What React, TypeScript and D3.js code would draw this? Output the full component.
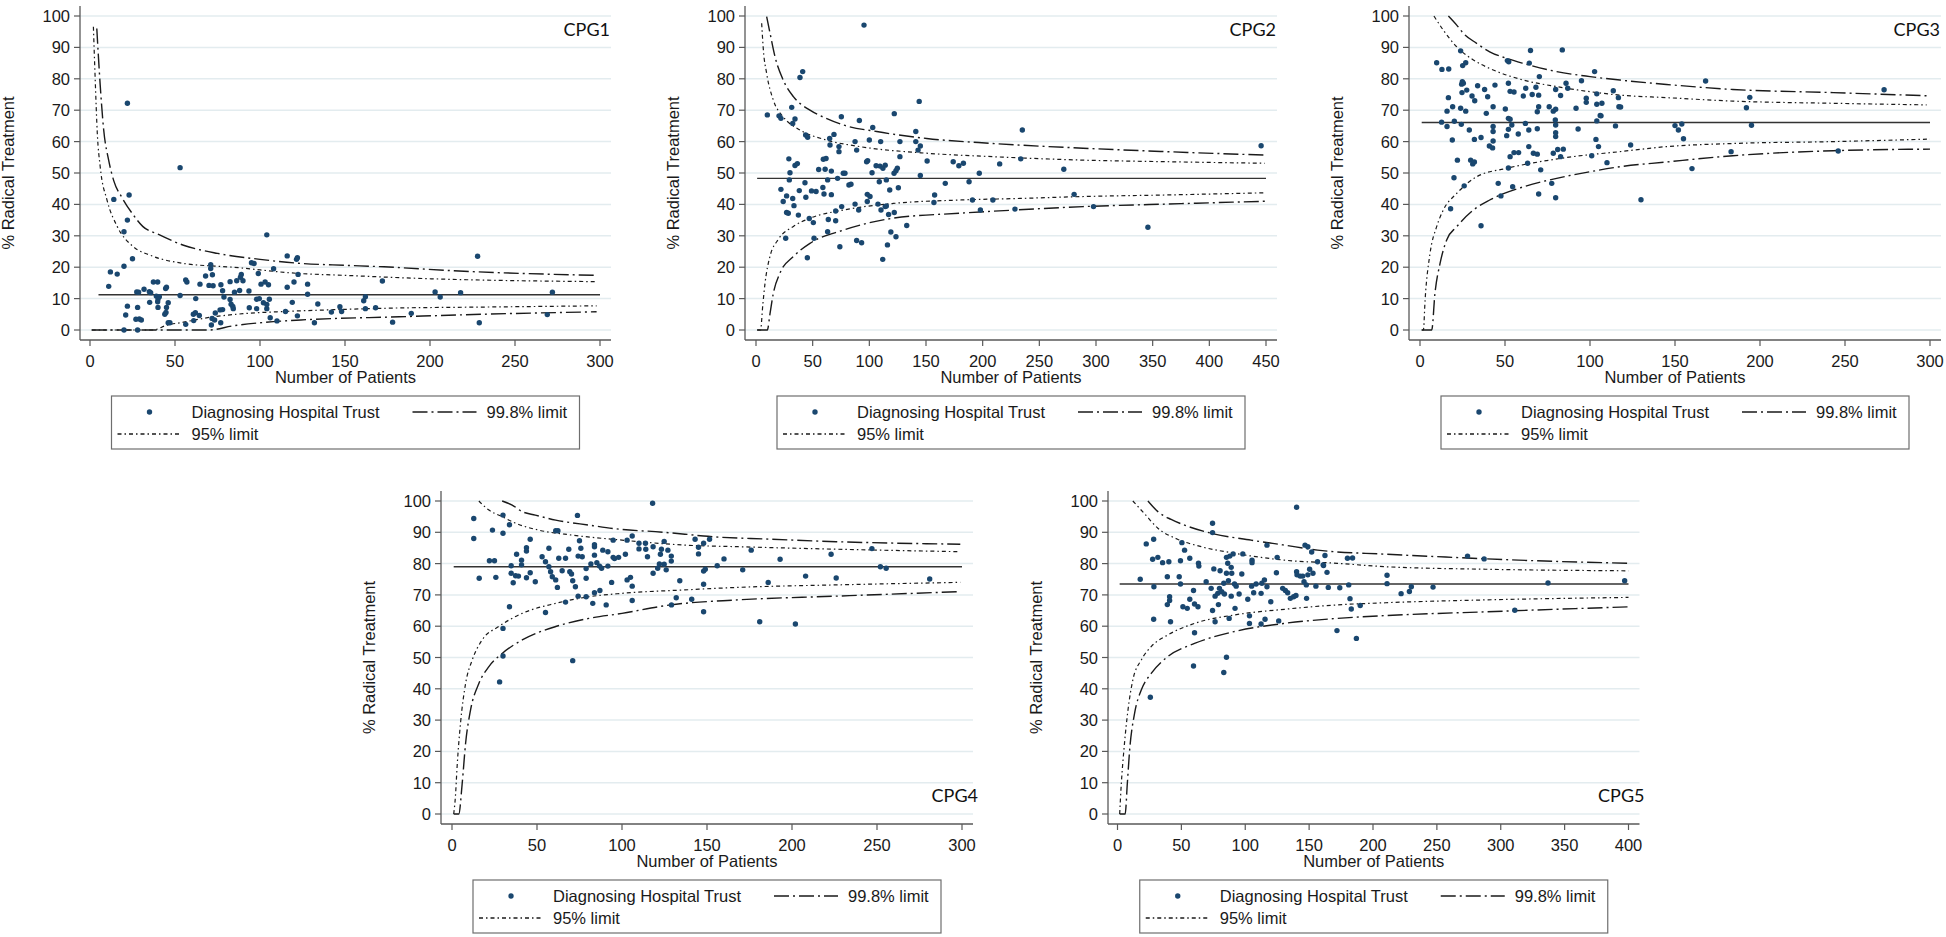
import React from 'react';
import * as d3 from 'd3';

type Pt = [number, number];

// ---- CPG1 ----
const cpg1Trusts: Pt[] = [
  [22, 72.2], [53, 51.7], [14, 41.6], [23, 43], [22, 35], [20, 31.3], [25, 22.7], [20, 20.3], [12, 18.5], [16, 17.8], [11, 13.9],
  [104, 30.3], [116, 23.6], [121.5, 22.5], [122, 23], [95, 21.4], [96.5, 21.2], [108, 19.5], [71, 20.8], [71, 19.6], [72, 17.6],
  [68, 17.2], [89, 17.7], [88.5, 16.8], [99, 18], [122.4, 17.7], [120, 15.3], [128, 14.6], [116, 13.6], [128, 11.4], [172, 15.6],
  [56.3, 15.9], [57, 15.3], [64.7, 14.6], [70, 14.2], [72.4, 14.1], [77, 14.4], [82.4, 15.4], [86.3, 15.7], [90, 15.7], [100.6, 14.6],
  [103, 15.3], [105, 14.4], [93.5, 12.4], [88, 12.6], [85, 12], [78, 12.5], [78.8, 10.5], [82.4, 9.7], [84, 7.5], [83, 8.2],
  [84.3, 6.8], [76.5, 6.4], [78, 6.5], [73.7, 5.4], [71.8, 3.7], [73.3, 3.2], [71.4, 1.6], [76.9, 2.3], [62, 5.5], [60.8, 5],
  [61, 3], [64.3, 4.6], [56.3, 1.8], [62.2, 10], [53, 11], [44.5, 13.2], [45, 13.6], [39.8, 15.3], [37.3, 15.3], [31.8, 13],
  [34.9, 12.2], [35.7, 11.9], [27.5, 12.1], [28.6, 12], [39, 10.8], [40.8, 10.6], [40, 9.9], [35.1, 8.8], [39.8, 9], [46, 8.7],
  [40, 7.2], [45, 7.2], [44, 5], [44.7, 5.6], [46, 2.3], [47, 2.3], [28, 7.2], [22, 7.6], [21, 4.8], [27, 3.4], [29, 3.5],
  [30.2, 3.2], [20, 0], [28, 0], [134, 8.3], [119, 8.8], [115, 5.9], [122, 4.5], [132, 2.3], [110, 2.9], [106, 3.9], [104, 6.8],
  [104, 8.1], [102, 8.7], [105.5, 9.8], [98, 9.8], [99.6, 10], [98, 6.8], [93.7, 7.1], [142, 5.7], [147, 7.4], [148, 5.9],
  [161, 9.3], [162, 10.6], [162, 6.8], [168, 7.1], [178, 2.5], [228, 23.5], [203, 12.1], [206, 10.5], [218, 11.9], [189, 5.3],
  [229, 2.3], [269, 4.9], [272, 12],
];
const cpg1Mean = 11.25;
const cpg1Up998: Pt[] = [[4, 96], [6, 78], [8, 64], [11, 54], [14, 47.5], [19, 42], [25, 37], [31, 33], [40, 30.5], [55, 27], [75, 24.4], [100, 22.5], [124, 21.2], [150, 20.6], [170, 20.2], [220, 18.7], [298, 17.4]];
const cpg1Up95: Pt[] = [[2, 96.6], [3, 80.7], [4.3, 62.6], [6, 52], [10, 41.4], [16, 33], [25.5, 26.5], [35, 23.9], [55, 21.2], [84, 20], [123, 18], [150, 17.4], [190, 16.5], [298, 15.4]];
const cpg1Lo95: Pt[] = [[1, 0], [37, 0], [45, 1.5], [55, 2.5], [70, 4], [90, 5.2], [110, 5.8], [140, 6.4], [180, 7], [230, 7.3], [298, 7.7]];
const cpg1Lo998: Pt[] = [[1, 0], [70, 0], [84, 1.3], [100, 2.3], [124, 3.2], [182, 4.2], [230, 5], [298, 5.8]];

// ---- CPG2 ----
const cpg2Trusts: Pt[] = [
  [95.3, 97.1], [41.2, 82.3], [38.8, 80.4], [10, 68.5], [20.3, 68.2], [22, 67.4], [31.5, 70.9], [32.4, 65.8], [34.4, 67.2],
  [43.8, 62.1], [45.6, 61.4], [75.3, 67.9], [91.2, 66.7], [103, 64.5], [122, 68.9], [144, 72.8], [141, 63.2], [65, 61],
  [68.8, 62.3], [65.3, 58.9], [73.2, 58.4], [73.2, 56.8], [87.4, 60], [88.8, 57.3], [100, 60.5], [110, 60], [127, 60], [141, 60],
  [143, 57.3], [145, 58.6], [29, 54.5], [34.4, 52.4], [36.5, 53], [30, 50.1], [29.4, 47.8], [22, 44.8], [24, 40.9], [27, 42.7],
  [32.4, 41.9], [33.5, 39.6], [27, 37.4], [28.5, 37.2], [37.4, 36.6], [38.2, 44.4], [43.2, 46.9], [44, 42.3], [47, 35.5],
  [49, 44.3], [53, 44.1], [50.6, 34.2], [51.2, 29.2], [26.2, 29.2], [45.3, 23], [55.3, 51.1], [59, 45.4], [60, 43.3],
  [59.4, 54.4], [61.8, 54.6], [61, 51.2], [63.2, 47.8], [66.5, 50.6], [66.5, 43.1], [63.8, 35.2], [63.2, 31.3], [70.3, 37.9],
  [70.3, 34.8], [72, 48.3], [77, 49.9], [78.5, 49.9], [75.6, 39.3], [74, 26.5], [82, 46.2], [83.8, 46.4], [87.4, 40.1],
  [90.6, 38.2], [88.8, 28.5], [93.2, 27.8], [97.6, 53.6], [98.5, 53.9], [98.2, 43.2], [100.6, 42.5], [98.2, 40.9], [102.4, 50.1],
  [106, 52.3], [109.4, 52.2], [107.6, 40.1], [108.8, 47.2], [110.3, 38.2], [112, 51.5], [114, 52.5], [111.8, 22.5], [114, 39.3],
  [115, 39.5], [115, 47.8], [118, 44.6], [117, 36.8], [119, 31.2], [116, 27.1], [121.8, 49.9], [123.5, 50.7], [124.7, 51.5],
  [122, 37.4], [123.5, 29.7], [125.6, 45.3], [127, 55.2], [133, 33.3], [145, 49.2], [151, 53.8], [157.6, 43], [157, 40.6],
  [167, 46.7], [174, 53.6], [179, 52.3], [183, 53.1], [188, 47.2], [191, 41.4], [197, 49.9], [198, 38.2], [209, 41.4],
  [215, 52.9], [228.5, 38.5], [233.6, 54.5], [235, 63.7], [271.6, 51.2], [280.7, 43.2], [297.8, 39.3], [345.8, 32.7], [445.7, 58.7],
];
const cpg2Mean = 48.3;
const cpg2Up998: Pt[] = [[9.4, 99.8], [12.4, 94.5], [16.8, 87], [24, 79.6], [33, 74.3], [47.6, 70], [62, 67.4], [77, 65.3], [106.5, 63.2], [150.6, 61], [209, 59.4], [288.6, 57.9], [362, 56.8], [449, 55.7]];
const cpg2Up95: Pt[] = [[5, 97.7], [6.5, 89.2], [9.4, 81.7], [15.3, 73.2], [24, 67.9], [38.8, 63.7], [62, 60.5], [91.8, 58.4], [150.6, 56.3], [209, 55.2], [288.6, 54.1], [362, 53.6], [449, 53.1]];
const cpg2Lo95: Pt[] = [[1, 0], [4, 0], [6, 8], [8, 15], [12, 23], [20, 29], [33, 33], [47.6, 35.6], [77, 38.2], [121, 40.3], [180, 41.4], [233, 41.9], [288, 42.5], [362, 43], [449, 43.7]];
const cpg2Lo998: Pt[] = [[1, 0], [10, 0], [12.4, 5.3], [15.3, 11.7], [21, 18], [33, 23.4], [47.6, 27.6], [77, 31.8], [121, 35.6], [180, 37.2], [228, 38.2], [288.6, 39.3], [362, 40.1], [449, 41]];

// ---- CPG3 ----
const cpg3Trusts: Pt[] = [
  [9.8, 85.1], [12.9, 83], [16.9, 83.1], [23.9, 88.9], [25.1, 84.2], [26.9, 85.1], [24.9, 79.1], [24.5, 78.3], [25.5, 78.6],
  [24.7, 75.6], [16.7, 74], [27.5, 76.4], [30.6, 74.5], [32.2, 73], [33.9, 77.8], [38, 76.6], [39.8, 74.3], [44.1, 78],
  [15.9, 69.7], [19.2, 71.1], [23.9, 70.6], [26.9, 69.7], [12.7, 66.2], [15.9, 64.8], [20.2, 66.5], [24.3, 65.5], [19, 60.5],
  [22, 54.1], [20, 48.5], [18, 38.6], [35.9, 33.2], [26, 45.9], [29, 63.7], [32, 60.7], [29.8, 54.1], [31, 52.9], [32, 53.5],
  [35.9, 61.3], [39, 69], [40.8, 58.6], [42.7, 58], [43, 64.8], [43, 63.2], [43, 60.2], [43, 71.1], [46, 46.7], [47.6, 42.7],
  [50.2, 70.4], [51, 61.9], [52, 78.6], [51.4, 85.8], [52.2, 85.4], [52, 51.6], [52, 63.9], [52, 67.4], [53, 67.1], [53, 76],
  [55.3, 75.8], [54, 65.3], [53, 55.2], [54.5, 45.6], [55.3, 56.5], [58, 56.5], [57.8, 62.4], [60.8, 74.5], [62.2, 77],
  [62, 65.8], [63.3, 53.1], [64, 63.7], [64, 58.4], [64.3, 85], [65, 89], [66, 75], [66.7, 56.3], [69, 56], [68.2, 77.3],
  [69, 69.5], [69, 64.1], [69.8, 74.8], [69.8, 71.1], [70.2, 80.7], [69.8, 43.3], [71, 51], [76, 71.1], [77.5, 46.7],
  [78.4, 69.7], [79.8, 76.6], [79.8, 70.3], [79.6, 66.9], [79.8, 65.3], [79.8, 62.8], [79.8, 61.6], [79.8, 42.1], [78.4, 56.3],
  [81, 57.5], [82.7, 55.2], [82.7, 74.7], [83.7, 89.2], [84.3, 57.6], [85.9, 78.6], [86.9, 77], [91.8, 70.6], [93, 64],
  [95, 79.4], [97.8, 73.8], [97.8, 72.5], [101, 55.5], [102.7, 82.3], [103.5, 60.7], [104, 66.6], [104, 75.2], [104, 71.9],
  [105, 58.4], [106, 68.3], [107, 72.2], [110, 53.3], [113.7, 76.2], [115, 65], [116.7, 74], [117, 71.1], [106.5, 68.2],
  [118, 71], [123.9, 58.9], [130, 41.5], [150, 65.1], [152, 63.7], [154, 65.6], [155, 60.9], [160, 51.4], [168, 79.3],
  [183, 56.8], [192, 70.8], [194, 74.1], [195, 65.2], [246, 57], [273, 76.5],
];
const cpg3Mean = 66.1;
const cpg3Up998: Pt[] = [[16.7, 100], [21.6, 97.1], [25.5, 94.5], [33.3, 91.3], [41, 88.6], [51, 86.5], [60.8, 84.9], [80.4, 82.3], [100, 80.7], [117.6, 79.6], [145, 78.2], [184, 76.6], [243, 75.6], [298, 74.6]];
const cpg3Up95: Pt[] = [[8.2, 100], [13.7, 95.5], [21.6, 90.2], [31.4, 86], [41, 83.3], [60.8, 79.6], [80.4, 77.5], [100, 75.9], [117.6, 74.8], [145, 74], [184, 72.9], [243, 72.2], [298, 71.7]];
const cpg3Lo95: Pt[] = [[1, 0], [2, 0], [3, 9.6], [5.9, 24.4], [9.8, 32.9], [13.7, 38.2], [21.6, 43.5], [33.3, 48.8], [51, 51.5], [70.6, 53.6], [90, 55.2], [117.6, 56.8], [145, 58.4], [184, 59.4], [243, 60], [300, 60.8]];
const cpg3Lo998: Pt[] = [[1, 0], [6.9, 0], [8.8, 11.7], [11.8, 21.2], [15.7, 28.7], [21.6, 32.9], [31.4, 38.2], [41, 41.4], [60.8, 45.6], [80.4, 48.3], [100, 50.4], [117.6, 52], [145, 53.5], [184, 55.5], [243, 57.1], [300, 57.6]];

// ---- CPG4 ----
const cpg4Trusts: Pt[] = [
  [12.8, 94.4], [12.8, 88], [16, 75.3], [22, 80.9], [25, 80.9], [23.8, 90.7], [25.8, 75.6], [30, 95.5], [30, 89.7], [33.8, 92.4],
  [33.8, 66.2], [30, 59.3], [30, 50.5], [28, 42.2], [34.8, 79.3], [34.8, 76.9], [36, 73.9], [37.4, 76.1], [39.1, 76], [38, 83],
  [40.9, 81.1], [40.9, 79.6], [43.8, 85.1], [43.8, 84], [43.8, 75.5], [46, 87.8], [46, 77.1], [49, 74.2], [53, 82.2], [55, 80.6],
  [55, 64.4], [57, 84.9], [57, 79], [58, 77.4], [59, 75.8], [61, 74.8], [62, 72.4], [61, 90.5], [62.3, 90.5], [62.8, 81.7],
  [64.8, 77.7], [66.8, 81.7], [66.8, 67.7], [68.7, 84.6], [69.3, 77.4], [70.3, 76.7], [71, 74.5], [71, 49], [72.6, 72.6],
  [73.8, 95.4], [74.2, 69.6], [75, 87.3], [75.8, 84.9], [74.2, 82.4], [76.6, 82.2], [78.9, 78.4], [78.9, 75.3], [78.9, 69.4],
  [81.7, 79.9], [82.8, 67.3], [83.8, 85.4], [83.8, 86], [83.8, 82.7], [83.8, 70.7], [85.2, 80.3], [86.8, 79.2], [87, 71.4],
  [88, 78.5], [88.7, 84.3], [90.7, 66.8], [91.7, 83.8], [91.7, 79.2], [93.9, 74], [94.8, 87.5], [94.8, 82], [95.6, 81.6],
  [98, 82], [102, 83], [103, 87.5], [103, 74.8], [105, 75.6], [106, 72.8], [106, 68.2], [106, 88.8], [110, 86.5], [110, 84.7],
  [113.8, 86.5], [114, 84.6], [115, 82.2], [118, 99.3], [118.3, 85.4], [118.3, 76.9], [121, 78.5], [122, 79.9], [122.6, 83],
  [123.2, 84.6], [124.8, 87.1], [124.8, 79.8], [126, 78], [127, 84.3], [129, 82.4], [129, 80.8], [129.1, 66.8], [131.9, 69.1],
  [134, 74.5], [143, 87.8], [145, 85.2], [148, 86.5], [151.5, 87.8], [145, 83.1], [156, 79.3], [160, 81.5], [148, 77.6],
  [149, 78.2], [141, 68.6], [148, 73.4], [148, 64.6], [171, 78], [176, 84.3], [181, 61.4], [186, 74], [193, 81.4], [202, 60.7],
  [208, 76], [223, 83], [226, 75.4], [247, 84.8], [252, 79], [255.4, 78.5], [281, 75.1],
];
const cpg4Mean = 79;
const cpg4Up998: Pt[] = [[29.5, 100], [35.4, 98.7], [41.3, 96.6], [49, 95.5], [61, 93.9], [80.5, 92.3], [100, 90.9], [119.7, 90.2], [137, 89.4], [148, 88.8], [187, 87.8], [226, 87], [299, 86.2]];
const cpg4Up95: Pt[] = [[15.8, 100], [21.7, 97.1], [29.5, 95], [37.4, 92.9], [51, 90.7], [70.7, 89.1], [100, 87.5], [137, 85.9], [168, 85.4], [226, 84.6], [299, 83.8]];
const cpg4Lo95: Pt[] = [[1, 0], [2, 5.5], [3, 15.1], [5, 29], [8, 41.7], [11.9, 49.2], [17.7, 55.6], [27.5, 59.9], [41.3, 64.1], [61, 67.3], [80.5, 69.4], [100, 70.5], [137, 71.6], [168, 72.4], [226, 73.2], [299, 74]];
const cpg4Lo998: Pt[] = [[1, 0], [4, 0], [6, 9.8], [8, 22.6], [10.9, 33.2], [15.8, 41.7], [21.7, 47.1], [29.5, 51.3], [41.3, 55.6], [61, 59.9], [80.5, 62.5], [100, 64.1], [128.5, 66.8], [168, 68.4], [226, 69.6], [297, 71]];

// ---- CPG5 ----
const cpg5Trusts: Pt[] = [
  [17.8, 75], [22.5, 86.3], [28.3, 87.8], [27.5, 81.4], [31.6, 82], [28.5, 72.6], [28.3, 62.2], [25.7, 37.3], [35.3, 80.3],
  [39, 75.8], [40.2, 80.6], [39, 66.9], [40.8, 69.4], [40.8, 68.2], [41.5, 61.4], [48.3, 75.8], [49.3, 73.5], [50.4, 86.7],
  [49.3, 80.9], [52.5, 84.3], [51.2, 66.2], [54.6, 65.7], [56.6, 81.7], [56.6, 68.6], [59.5, 71.4], [60.3, 67.1], [63, 66.2],
  [60.3, 57.9], [59.5, 47.3], [63.4, 80.1], [63.7, 79.2], [69.4, 74.2], [73.3, 72.1], [74.4, 92.9], [74.4, 89.9], [74.4, 65],
  [75.4, 78.3], [76.4, 61.4], [76.4, 69.6], [78.5, 70.5], [79, 66.9], [79.8, 72.1], [80.3, 77.7], [81.6, 71], [83.2, 73.7],
  [83.7, 70.3], [83.2, 45.2], [85.3, 50.1], [85.3, 76.9], [85.3, 82], [86.3, 80.1], [86.8, 74.5], [87.4, 62.5], [87.9, 82.4],
  [89, 78.8], [89, 69.6], [89.4, 76.9], [90.5, 83.1], [91.6, 73.5], [92.9, 72.8], [92, 65.7], [95.2, 70.3], [97.3, 76.7],
  [98.1, 83.1], [102, 68.6], [103.3, 63.3], [103.3, 60.9], [105, 72.8], [105.3, 81.1], [105.3, 80.3], [106.6, 70.7],
  [108.5, 73.5], [112.4, 70.5], [112.4, 60.7], [113, 73.7], [115, 74.8], [115.5, 62.2], [117, 72.6], [117, 85.9], [120, 67.8],
  [124.4, 77.1], [125, 82], [126.2, 61.7], [129.3, 72.1], [131.4, 71.4], [133.2, 70.7], [135.3, 68.9], [137.9, 69.4],
  [139.7, 69.8], [140.2, 98], [140.2, 77.4], [140.5, 76.4], [143, 76], [145, 76], [146, 74.2], [147.8, 73.2], [146.8, 85.9],
  [149, 85.4], [148, 68.9], [149, 76.4], [150.4, 78.2], [152, 83.7], [153, 76.9], [155.3, 72.8], [156.6, 80.6], [161.3, 79.4],
  [162.4, 82.6], [164, 77.2], [165, 72.4], [171.8, 58.6], [161, 79.6], [174, 72.3], [180, 81.7], [184, 81.8], [181, 73.2],
  [182, 68.8], [183, 65.5], [190, 66.6], [187, 56.1], [211, 76.3], [211, 73.6], [222, 70.4], [228.5, 71.1], [230, 72.6],
  [247, 72.5], [274, 82.4], [287, 81.5], [311, 65.1], [337, 73.8], [397, 74.5],
];
const cpg5Mean = 73.5;
const cpg5Up998: Pt[] = [[23.8, 100], [31.6, 96.6], [42, 94.1], [52.5, 92.3], [73.3, 89.7], [104.5, 87.5], [130.6, 85.9], [156.6, 84.3], [210, 83], [262, 82], [314, 81.1], [400, 80.1]];
const cpg5Up95: Pt[] = [[12, 100], [21, 96], [31.6, 91.3], [47, 87.8], [65.5, 85.4], [91.5, 83.3], [130.6, 81.1], [172, 80.1], [210, 79], [288, 78.2], [400, 77.7]];
const cpg5Lo95: Pt[] = [[1.7, 0], [3, 9.8], [5, 20.4], [8.2, 33.2], [12, 42.8], [18.6, 49.2], [26.4, 53.5], [39.4, 57.2], [60.3, 60.9], [91.5, 63.6], [130.6, 65.4], [172, 66.8], [210, 67.5], [288, 68.4], [400, 69.2]];
const cpg5Lo998: Pt[] = [[1.7, 0], [6, 0], [7.7, 9.8], [9.5, 20.4], [13.4, 32.2], [18.6, 39.6], [26.4, 44.9], [39.4, 50.3], [60.3, 54.5], [91.5, 58.3], [130.6, 60.9], [172, 62.5], [210, 63.4], [288, 64.6], [400, 66.2]];

const yTicks = [0, 10, 20, 30, 40, 50, 60, 70, 80, 90, 100];
const xTicks300 = [0, 50, 100, 150, 200, 250, 300];
const xTicks400 = [0, 50, 100, 150, 200, 250, 300, 350, 400];
const xTicks450 = [0, 50, 100, 150, 200, 250, 300, 350, 400, 450];

const legendLabels = { trust: 'Diagnosing Hospital Trust', l998: '99.8% limit', l95: '95% limit' };

interface PanelSpec {
  label: string;
  trusts: Pt[];
  mean: number;
  meanFrom: number;
  up998: Pt[];
  up95: Pt[];
  lo95: Pt[];
  lo998: Pt[];
  xMax: number;
  xTicks: number[];
  axisX: number;
  x0: number;
  width: number;
  y100: number;
  y0: number;
  labelAtTop: boolean;
}

const panels: PanelSpec[] = [
  { label: 'CPG1', trusts: cpg1Trusts, mean: cpg1Mean, meanFrom: 5, up998: cpg1Up998, up95: cpg1Up95, lo95: cpg1Lo95, lo998: cpg1Lo998, xMax: 300, xTicks: xTicks300, axisX: 80, x0: 90, width: 510, y100: 16, y0: 330, labelAtTop: true },
  { label: 'CPG2', trusts: cpg2Trusts, mean: cpg2Mean, meanFrom: 1, up998: cpg2Up998, up95: cpg2Up95, lo95: cpg2Lo95, lo998: cpg2Lo998, xMax: 450, xTicks: xTicks450, axisX: 745, x0: 756, width: 510, y100: 16, y0: 330, labelAtTop: true },
  { label: 'CPG3', trusts: cpg3Trusts, mean: cpg3Mean, meanFrom: 1, up998: cpg3Up998, up95: cpg3Up95, lo95: cpg3Lo95, lo998: cpg3Lo998, xMax: 300, xTicks: xTicks300, axisX: 1409, x0: 1420, width: 510, y100: 16, y0: 330, labelAtTop: true },
  { label: 'CPG4', trusts: cpg4Trusts, mean: cpg4Mean, meanFrom: 1, up998: cpg4Up998, up95: cpg4Up95, lo95: cpg4Lo95, lo998: cpg4Lo998, xMax: 300, xTicks: xTicks300, axisX: 441, x0: 452, width: 510, y100: 501, y0: 814, labelAtTop: false },
  { label: 'CPG5', trusts: cpg5Trusts, mean: cpg5Mean, meanFrom: 1.7, up998: cpg5Up998, up95: cpg5Up95, lo95: cpg5Lo95, lo998: cpg5Lo998, xMax: 400, xTicks: xTicks400, axisX: 1108, x0: 1117.5, width: 511, y100: 501, y0: 814, labelAtTop: false },
];

const FONT = '"Liberation Sans", Arial, Helvetica, sans-serif';
const DOT = '#1a476f';
const INK = '#1a1a1a';
const GRID = '#e3ecef';
const AXIS = '#595959';
const DASH998 = '15 4 2 4';
const DASH95 = '4 3 1.5 3';

const Legend: React.FC<{ left: number; top: number }> = ({ left, top }) => {
  const r1 = top + 16;
  const r2 = top + 38;
  return (
    <g fontFamily={FONT} fontSize={16.5} fill={INK}>
      <rect x={left} y={top} width={468} height={53} fill="#fff" stroke="#6e6e6e" strokeWidth={1.2} />
      <circle cx={left + 38} cy={r1} r={2.7} fill={DOT} />
      <text x={left + 80} y={r1} dominantBaseline="central">{legendLabels.trust}</text>
      <line x1={left + 301} x2={left + 365} y1={r1} y2={r1} stroke={INK} strokeWidth={1.4} strokeDasharray={DASH998} />
      <text x={left + 375} y={r1} dominantBaseline="central">{legendLabels.l998}</text>
      <line x1={left + 6} x2={left + 70} y1={r2} y2={r2} stroke={INK} strokeWidth={1.4} strokeDasharray={DASH95} />
      <text x={left + 80} y={r2} dominantBaseline="central">{legendLabels.l95}</text>
    </g>
  );
};

const Panel: React.FC<{ p: PanelSpec }> = ({ p }) => {
  const x = d3.scaleLinear().domain([0, p.xMax]).range([p.x0, p.x0 + p.width]);
  const y = d3.scaleLinear().domain([0, 100]).range([p.y0, p.y100]);
  const line = d3
    .line<Pt>()
    .x((d) => x(d[0]))
    .y((d) => y(d[1]))
    .curve(d3.curveMonotoneX);
  const right = p.x0 + p.width + 11;
  const bottom = p.y0 + 10;
  const top = p.y100 - 10;
  const cx = (p.axisX + right) / 2;
  const legendTop = bottom + 56;

  return (
    <g>
      {yTicks.map((t) => (
        <line key={`g${t}`} x1={p.axisX} x2={right} y1={y(t)} y2={y(t)} stroke={GRID} strokeWidth={1.5} />
      ))}
      <line x1={p.axisX} x2={p.axisX} y1={top} y2={bottom} stroke={AXIS} strokeWidth={1.3} />
      <line x1={p.axisX} x2={right} y1={bottom} y2={bottom} stroke={AXIS} strokeWidth={1.3} />
      {yTicks.map((t) => (
        <g key={`y${t}`}>
          <line x1={p.axisX - 6} x2={p.axisX} y1={y(t)} y2={y(t)} stroke={AXIS} strokeWidth={1.2} />
          <text x={p.axisX - 10} y={y(t)} textAnchor="end" dominantBaseline="central" fontFamily={FONT} fontSize={16.5} fill={INK}>
            {t}
          </text>
        </g>
      ))}
      {p.xTicks.map((t) => (
        <g key={`x${t}`}>
          <line x1={x(t)} x2={x(t)} y1={bottom} y2={bottom + 6} stroke={AXIS} strokeWidth={1.2} />
          <text x={x(t)} y={bottom + 21} textAnchor="middle" dominantBaseline="central" fontFamily={FONT} fontSize={16.5} fill={INK}>
            {t}
          </text>
        </g>
      ))}
      <text
        transform={`translate(${p.axisX - 72},${(p.y0 + p.y100) / 2}) rotate(-90)`}
        textAnchor="middle"
        dominantBaseline="central"
        fontFamily={FONT}
        fontSize={16.5}
        fill={INK}
      >
        % Radical Treatment
      </text>
      <text x={cx} y={bottom + 37} textAnchor="middle" dominantBaseline="central" fontFamily={FONT} fontSize={16.5} fill={INK}>
        Number of Patients
      </text>

      <line x1={x(p.meanFrom)} x2={x(p.xMax)} y1={y(p.mean)} y2={y(p.mean)} stroke="#333" strokeWidth={1.4} />
      <path d={line(p.up998) ?? ''} fill="none" stroke={INK} strokeWidth={1.4} strokeDasharray={DASH998} />
      <path d={line(p.lo998) ?? ''} fill="none" stroke={INK} strokeWidth={1.4} strokeDasharray={DASH998} />
      <path d={line(p.up95) ?? ''} fill="none" stroke={INK} strokeWidth={1.2} strokeDasharray={DASH95} />
      <path d={line(p.lo95) ?? ''} fill="none" stroke={INK} strokeWidth={1.2} strokeDasharray={DASH95} />

      {p.trusts.map((d, i) => (
        <circle key={i} cx={x(d[0])} cy={y(d[1])} r={2.7} fill={DOT} />
      ))}

      <text
        x={p.labelAtTop ? right - 1 : right + 5}
        y={p.labelAtTop ? p.y100 + 13 : p.y0 - 19}
        textAnchor="end"
        dominantBaseline="central"
        fontFamily='Lato, "Noto Sans", sans-serif'
        fontSize={18}
        fill="#111"
      >
        {p.label}
      </text>

      <Legend left={cx - 234} top={legendTop} />
    </g>
  );
};

export default function App() {
  return (
    <svg
      width={1946}
      height={937}
      viewBox="0 0 1946 937"
      style={{ position: 'absolute', left: 0, top: 0, background: '#fff' }}
    >
      <rect width={1946} height={937} fill="#fff" />
      {panels.map((p) => (
        <Panel key={p.label} p={p} />
      ))}
    </svg>
  );
}
